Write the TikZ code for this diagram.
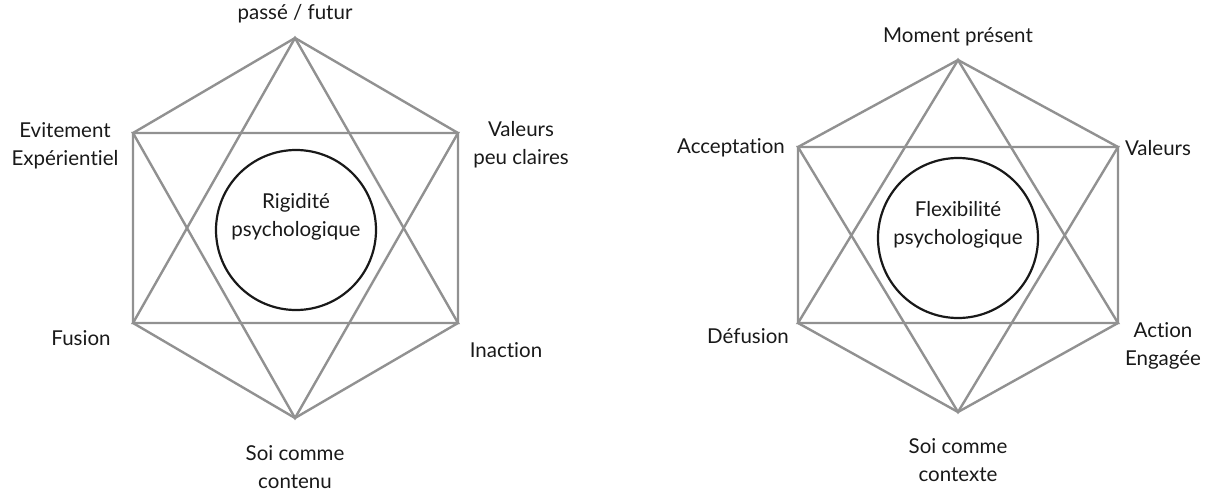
\documentclass[tikz,border=0pt]{standalone}
\usepackage{fontspec}
\setmainfont{Lato}[Ligatures={NoCommon,NoRare}]
\definecolor{hexgray}{RGB}{145,145,145}
\definecolor{ink}{RGB}{25,25,25}
\begin{document}
\begin{tikzpicture}[x=1pt,y=-1pt,
  edge/.style={draw=hexgray,line width=2.4pt,line join=miter},
  core/.style={circle,draw=ink,line width=2.2pt,minimum size=160pt,inner sep=0pt},
  lbl/.style={align=center,font=\fontsize{20.5}{28}\selectfont,text=ink,inner sep=0pt}]
\useasboundingbox (0,0) rectangle (1213,498);
% left hexaflex
\coordinate (lT) at (295,38);
\coordinate (lUR) at (458,133);
\coordinate (lLR) at (458,323);
\coordinate (lB) at (295,418);
\coordinate (lLL) at (133,323);
\coordinate (lUL) at (133,133);
\draw[edge] (lT) -- (lUR) -- (lLR) -- (lB) -- (lLL) -- (lUL) -- cycle;
\draw[edge] (lT) -- (lLR) -- (lLL) -- cycle;
\draw[edge] (lB) -- (lUL) -- (lUR) -- cycle;
\node[core] (lC) at (296,230) {};
\node[lbl] (lCt) at (296,217) {Rigidité\\psychologique};
\node[lbl] (lT1) at (295,14) {passé / futur};
\node[lbl] (lUL1) at (65,146) {Evitement\\Expérientiel};
\node[lbl] (lUR1) at (521,145) {Valeurs\\peu claires};
\node[lbl] (lLL1) at (81,338) {Fusion};
\node[lbl] (lLR1) at (506,350) {Inaction};
\node[lbl] (lB1) at (295,467) {Soi comme\\contenu};
% right hexaflex
\coordinate (rT) at (958,60);
\coordinate (rUR) at (1118,147);
\coordinate (rLR) at (1118,323);
\coordinate (rB) at (958,412);
\coordinate (rLL) at (798,323);
\coordinate (rUL) at (798,147);
\draw[edge] (rT) -- (rUR) -- (rLR) -- (rB) -- (rLL) -- (rUL) -- cycle;
\draw[edge] (rT) -- (rLR) -- (rLL) -- cycle;
\draw[edge] (rB) -- (rUL) -- (rUR) -- cycle;
\node[core] (rC) at (958,238) {};
\node[lbl] (rCt) at (958,225) {Flexibilité\\psychologique};
\node[lbl] (rT1) at (958,37) {Moment présent};
\node[lbl] (rUL1) at (731,148) {Acceptation};
\node[lbl] (rUR1) at (1158,148) {Valeurs};
\node[lbl] (rLL1) at (748,336) {Défusion};
\node[lbl] (rLR1) at (1163,346) {Action\\Engagée};
\node[lbl] (rB1) at (958,460) {Soi comme\\contexte};
\end{tikzpicture}
\end{document}
